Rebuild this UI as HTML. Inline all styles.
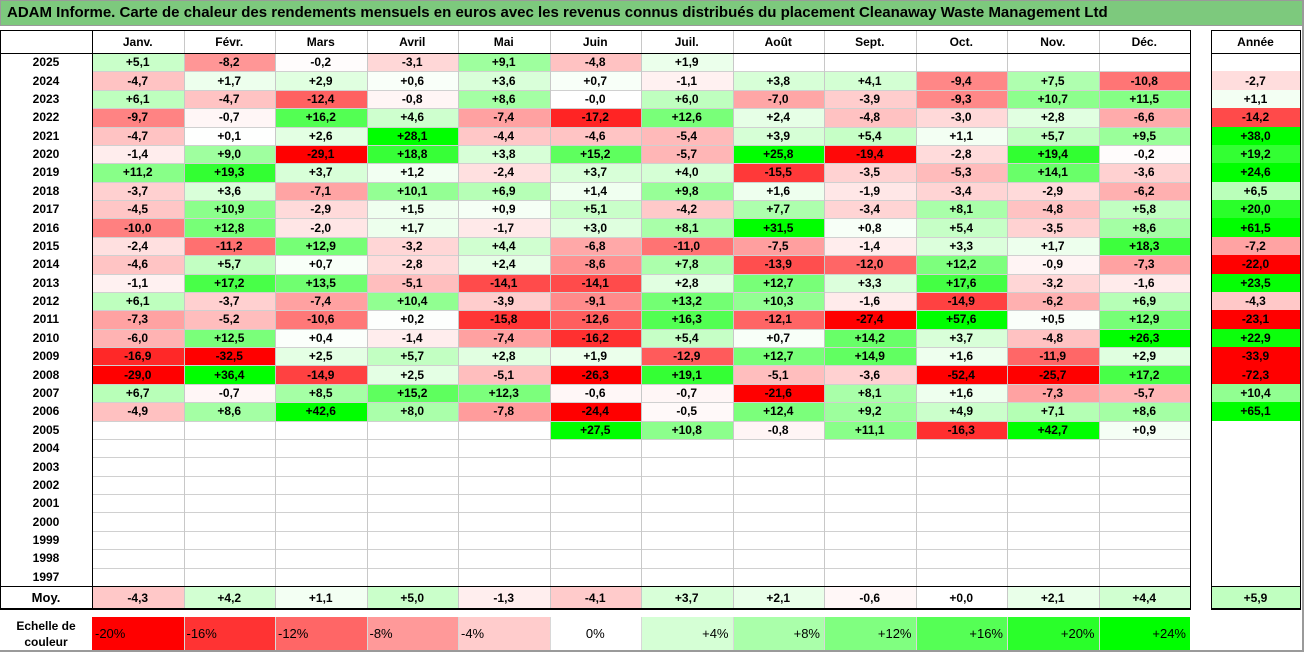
<!DOCTYPE html>
<html><head><meta charset="utf-8">
<style>
body{margin:0;width:1304px;height:652px;overflow:hidden;background:#fff;font-family:"Liberation Sans",Arial,sans-serif;}
#root{position:relative;width:1304px;height:652px;}
.c{position:absolute;box-sizing:border-box;font-weight:bold;font-size:12px;display:flex;align-items:center;justify-content:center;color:#000;}
.title{position:absolute;left:0;top:0;width:1304px;height:26px;background:#7dc97d;border:1px solid #9a9a9a;box-sizing:border-box;font-weight:bold;font-size:15px;line-height:24px;padding-left:6px;}
.ln{position:absolute;}
</style></head><body>
<div id="root">
<div class="title">ADAM Informe. Carte de chaleur des rendements mensuels en euros avec les revenus connus distribués du placement Cleanaway Waste Management Ltd</div>
</div>
<script>
const months=["Janv.","Févr.","Mars","Avril","Mai","Juin","Juil.","Août","Sept.","Oct.","Nov.","Déc."];
const years=[2025,2024,2023,2022,2021,2020,2019,2018,2017,2016,2015,2014,2013,2012,2011,2010,2009,2008,2007,2006,2005,2004,2003,2002,2001,2000,1999,1998,1997];
const N=null;
const values=[
[5.1,-8.2,-0.2,-3.1,9.1,-4.8,1.9,N,N,N,N,N],
[-4.7,1.7,2.9,0.6,3.6,0.7,-1.1,3.8,4.1,-9.4,7.5,-10.8],
[6.1,-4.7,-12.4,-0.8,8.6,-0.0,6.0,-7.0,-3.9,-9.3,10.7,11.5],
[-9.7,-0.7,16.2,4.6,-7.4,-17.2,12.6,2.4,-4.8,-3.0,2.8,-6.6],
[-4.7,0.1,2.6,28.1,-4.4,-4.6,-5.4,3.9,5.4,1.1,5.7,9.5],
[-1.4,9.0,-29.1,18.8,3.8,15.2,-5.7,25.8,-19.4,-2.8,19.4,-0.2],
[11.2,19.3,3.7,1.2,-2.4,3.7,4.0,-15.5,-3.5,-5.3,14.1,-3.6],
[-3.7,3.6,-7.1,10.1,6.9,1.4,9.8,1.6,-1.9,-3.4,-2.9,-6.2],
[-4.5,10.9,-2.9,1.5,0.9,5.1,-4.2,7.7,-3.4,8.1,-4.8,5.8],
[-10.0,12.8,-2.0,1.7,-1.7,3.0,8.1,31.5,0.8,5.4,-3.5,8.6],
[-2.4,-11.2,12.9,-3.2,4.4,-6.8,-11.0,-7.5,-1.4,3.3,1.7,18.3],
[-4.6,5.7,0.7,-2.8,2.4,-8.6,7.8,-13.9,-12.0,12.2,-0.9,-7.3],
[-1.1,17.2,13.5,-5.1,-14.1,-14.1,2.8,12.7,3.3,17.6,-3.2,-1.6],
[6.1,-3.7,-7.4,10.4,-3.9,-9.1,13.2,10.3,-1.6,-14.9,-6.2,6.9],
[-7.3,-5.2,-10.6,0.2,-15.8,-12.6,16.3,-12.1,-27.4,57.6,0.5,12.9],
[-6.0,12.5,0.4,-1.4,-7.4,-16.2,5.4,0.7,14.2,3.7,-4.8,26.3],
[-16.9,-32.5,2.5,5.7,2.8,1.9,-12.9,12.7,14.9,1.6,-11.9,2.9],
[-29.0,36.4,-14.9,2.5,-5.1,-26.3,19.1,-5.1,-3.6,-52.4,-25.7,17.2],
[6.7,-0.7,8.5,15.2,12.3,-0.6,-0.7,-21.6,8.1,1.6,-7.3,-5.7],
[-4.9,8.6,42.6,8.0,-7.8,-24.4,-0.5,12.4,9.2,4.9,7.1,8.6],
[N,N,N,N,N,27.5,10.8,-0.8,11.1,-16.3,42.7,0.9],
[N,N,N,N,N,N,N,N,N,N,N,N],[N,N,N,N,N,N,N,N,N,N,N,N],[N,N,N,N,N,N,N,N,N,N,N,N],
[N,N,N,N,N,N,N,N,N,N,N,N],[N,N,N,N,N,N,N,N,N,N,N,N],[N,N,N,N,N,N,N,N,N,N,N,N],
[N,N,N,N,N,N,N,N,N,N,N,N],[N,N,N,N,N,N,N,N,N,N,N,N]];
const yearly=[N,-2.7,1.1,-14.2,38.0,19.2,24.6,6.5,20.0,61.5,-7.2,-22.0,23.5,-4.3,-23.1,22.9,-33.9,-72.3,10.4,65.1,N,N,N,N,N,N,N,N,N];
const averages=[-4.3,4.2,1.1,5.0,-1.3,-4.1,3.7,2.1,-0.6,0.0,2.1,4.4];
const avgYear=5.9;
const scale=[-20,-16,-12,-8,-4,0,4,8,12,16,20,24];

const root=document.getElementById('root');
const X0=92,CW=91.5,TOP=53,RH=(586-53)/29,AX=1211,AW=89;
function col(v){
  if(v===null) return '#fff';
  if(v<0){const t=Math.min(1,-v/20);const g=Math.round(255*(1-t));return `rgb(255,${g},${g})`;}
  const t=Math.min(1,v/24);const g=Math.round(255*(1-t));return `rgb(${g},255,${g})`;
}
function fmt(v){if(v===null)return '';const s=Math.abs(v).toFixed(1).replace('.',',');return (v>0?'+':'-')+s;}
function fmt0(v){if(v===0)return (Object.is(v,-0)?'-':'+')+'0,0';return fmt(v);}
function cell(x,y,w,h,bg,txt,name,extra){
  const d=document.createElement('div');d.className='c';
  d.style.cssText=`left:${x}px;top:${y}px;width:${w}px;height:${h}px;background:${bg};`+(extra||'');
  d.textContent=txt;
  
  
  root.appendChild(d);return d;
}
function line(x,y,w,h,c,name){
  const d=document.createElement('div');d.className='ln';
  d.style.cssText=`left:${x}px;top:${y}px;width:${w}px;height:${h}px;background:${c};`;
  
  
  root.appendChild(d);
}
// header
months.forEach((m,i)=>{
  const c=cell(X0+i*CW,31,CW,22,'#fff',m,'month-header');
});
cell(AX,31,AW,22,'#fff','Année','year-total-header');
// rows
years.forEach((yr,r)=>{
  const y=TOP+r*RH;
  cell(0,y,92,RH,'#fff',String(yr),'year-label');
  values[r].forEach((v,i)=>{
    cell(X0+i*CW,y,CW,RH,col(v),v===null?'':fmt0(v),'heatmap-cell');
  });
  cell(AX,y,AW,RH,col(yearly[r]),fmt(yearly[r]),'year-total-cell');
});
// grid lines light
for(let r=0;r<=29;r++){line(X0,TOP+r*RH,12*CW,1,'#d0d0d0','row-gridline');}
for(let i=1;i<12;i++){line(X0+i*CW,31,1,586-31,'#c8c8c8','col-gridline');}
// averages
const MY=587,MH=21;
cell(0,MY,92,MH,'#fff','Moy.','avg-label','font-size:13px;');
averages.forEach((v,i)=>cell(X0+i*CW,MY,CW,MH,col(v),v===0?'+0,0':fmt(v),'avg-cell'));
cell(AX,MY,AW,MH,col(avgYear),fmt(avgYear),'avg-year-cell');
for(let i=1;i<12;i++){line(X0+i*CW,MY,1,MH,'#c8c8c8','col-gridline');}
// strong borders
line(0,30,1190,1,'#000','table-top');
line(X0,30,1,579,'#000','year-col-border');
line(0,53,1190,1,'#000','header-bottom');
line(0,586,1190,1,'#000','avg-top');
line(0,608,1190,2,'#000','avg-bottom');
line(0,30,1,580,'#000','table-left');
line(1190,30,1,580,'#000','table-right');
line(AX,30,AW,1,'#000','year-box-top');
line(AX,53,AW,1,'#000','year-box-header');
line(AX,586,AW,1,'#000','year-box-avg');
line(AX,608,AW,2,'#000','year-box-bottom');
line(AX,30,1,580,'#000','year-box-left');
line(AX+AW,30,1,580,'#000','year-box-right');
// scale
cell(0,617,92,34,'#fff','','scale-label','font-size:12px;line-height:16px;text-align:center;').innerHTML='Echelle de<br>couleur';
scale.forEach((v,i)=>{
  const al=v<0?'justify-content:flex-start;padding-left:3px;':(v>0?'justify-content:flex-end;padding-right:4px;':'');
  cell(X0+i*CW,617,CW,33,col(v),(v>0?'+':'')+v+'%','scale-swatch','font-weight:normal;font-size:13px;'+al);
});
for(let i=1;i<12;i++){line(X0+i*CW,617,1,33,'#d8d8d8','scale-divider');}
line(0,650,1304,2,'#9a9a9a','frame-bottom');
line(1302,0,2,652,'#9a9a9a','frame-right');
</script>
</body></html>
